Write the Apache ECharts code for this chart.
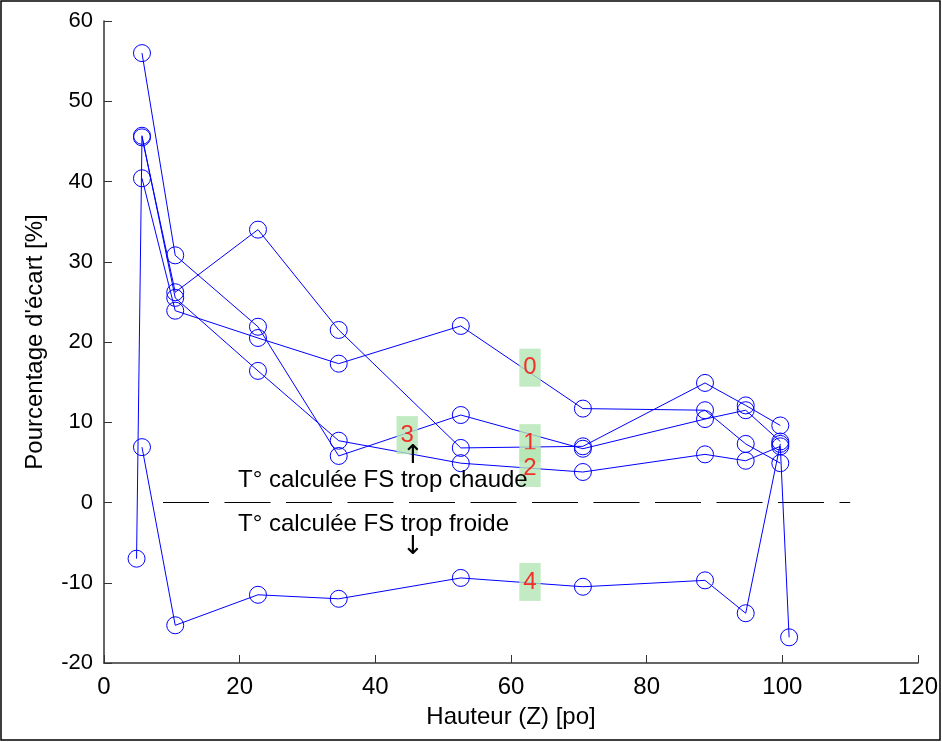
<!DOCTYPE html>
<html>
<head>
<meta charset="utf-8">
<script src="https://cdn.jsdelivr.net/npm/echarts@6/dist/echarts.min.js"></script>
<style>html,body{margin:0;padding:0;background:#fff;}#c{width:942px;height:742px;}</style>
</head>
<body>
<div id="c"></div>
<script>
// ---- data ----
var heights = [5.6, 10.5, 22.7, 34.6, 52.6, 70.6, 88.6, 94.6, 99.7];
var s0 = [40.4, 23.9, 20.5, 17.3, 22.0, 11.7, 11.5, 7.3, 4.9];
var s1 = [45.5, 26.2, 34.0, 21.5, 6.8, 7.0, 14.9, 12.1, 9.6];
var s2x = [4.8, 5.6, 10.5, 22.7, 34.6, 52.6, 70.6, 88.6, 94.6, 99.7, 101.0];
var s2 = [-7.0, 45.7, 25.5, 16.4, 7.7, 4.9, 3.8, 6.0, 5.2, 7.0, -16.8];
var s3 = [56.0, 30.8, 21.9, 5.8, 10.9, 6.7, 10.4, 11.5, 7.6];
var s4 = [6.9, -15.3, -11.5, -12.0, -9.4, -10.5, -9.7, -13.8, 7.3];

var curveLabels = ['0', '1', '2', '3', '4'];
var curveLabelX = [62.8, 62.8, 62.8, 44.7, 62.8];
var curveLabelY = [16.8, 7.4, 4.3, 8.4, -9.9];

var zeroLineX = [8.7, 110];
var zeroLineY = [0, 0];

var noteTexts = ['T° calculée FS trop chaude', 'T° calculée FS trop froide'];
var noteX = [19.75, 19.75];
var noteY = [2.8, -2.7];
var arrowTexts = ['↑', '↓'];
var arrowX = [45.55, 45.55];
var arrowY = [5.8, -5.6];

var xTicks = [0, 20, 40, 60, 80, 100, 120];
var yTicks = [-20, -10, 0, 10, 20, 30, 40, 50, 60];

function zip(xs, ys) { return xs.map(function (x, i) { return [x, ys[i]]; }); }

var FONT = '"Liberation Sans", Arial, sans-serif';
var BLUE = '#0000ff';

function curve(name, xs, ys) {
  return {
    name: name, type: 'line', data: zip(xs, ys),
    symbol: 'circle', symbolSize: 17,
    itemStyle: { color: 'rgba(0,0,0,0)', borderColor: BLUE, borderWidth: 1, opacity: 1 },
    lineStyle: { color: BLUE, width: 1 },
    showSymbol: true, z: 3, silent: true
  };
}

var series = [
  {
    type: 'line', data: zip(zeroLineX, zeroLineY), symbol: 'none', silent: true,
    lineStyle: { color: '#000', width: 1, type: [46, 15.5] }, z: 2
  },
  curve('0', heights, s0),
  curve('1', heights, s1),
  curve('2', s2x, s2),
  curve('3', heights, s3),
  curve('4', heights, s4),
  {
    type: 'scatter', symbolSize: 0, silent: true, z: 10,
    data: curveLabels.map(function (t, i) { return { value: [curveLabelX[i], curveLabelY[i]], name: t }; }),
    label: {
      show: true, position: 'inside', formatter: function (p) { return p.name; },
      color: '#ff0000', fontFamily: FONT, fontSize: 24, lineHeight: 24,
      backgroundColor: '#b4e6b4', padding: [7, 4, 7, 4]
    }
  }
];

var chart = echarts.init(document.getElementById('c'), null, { renderer: 'canvas' });
chart.setOption({
  animation: false,
  backgroundColor: '#ffffff',
  grid: { left: 104, top: 21, width: 814, height: 642, containLabel: false },
  xAxis: {
    type: 'value', min: 0, max: 120, interval: 20,
    name: 'Hauteur (Z) [po]', nameLocation: 'middle', nameGap: 42,
    nameTextStyle: { color: '#000', fontFamily: FONT, fontSize: 24 },
    axisLine: { show: true, onZero: false, lineStyle: { color: '#333', width: 1.5 } },
    axisTick: { show: true, inside: true, length: 8, lineStyle: { color: '#333', width: 1 } },
    axisLabel: { color: '#000', fontFamily: FONT, fontSize: 24, margin: 12,
      formatter: function (v) { return xTicks.indexOf(v) >= 0 ? String(v) : ''; } },
    splitLine: { show: false }
  },
  yAxis: {
    type: 'value', min: -20, max: 60, interval: 10,
    name: "Pourcentage d'écart [%]", nameLocation: 'middle', nameGap: 57, nameRotate: 90,
    nameTextStyle: { color: '#000', fontFamily: FONT, fontSize: 24 },
    axisLine: { show: true, onZero: false, lineStyle: { color: '#333', width: 1.5 } },
    axisTick: { show: true, inside: true, length: 8, lineStyle: { color: '#333', width: 1 } },
    axisLabel: { color: '#000', fontFamily: FONT, fontSize: 22, margin: 11,
      formatter: function (v) { return yTicks.indexOf(v) >= 0 ? String(v) : ''; } },
    splitLine: { show: false }
  },
  series: series
});

// annotations placed through the chart's own coordinate conversion
var graphics = [{
  type: 'rect', shape: { x: 1, y: 1, width: 939, height: 739 },
  style: { fill: 'none', stroke: '#000', lineWidth: 1.5 }, silent: true, z: 100
}];
noteTexts.forEach(function (t, i) {
  var p = chart.convertToPixel({ gridIndex: 0 }, [noteX[i], noteY[i]]);
  graphics.push({ type: 'text', x: p[0], y: p[1], z: 50, silent: true,
    style: { text: t, fill: '#000', font: '24px "Liberation Sans", Arial, sans-serif',
      textAlign: 'left', textVerticalAlign: 'middle' } });
});
arrowTexts.forEach(function (t, i) {
  var p = chart.convertToPixel({ gridIndex: 0 }, [arrowX[i], arrowY[i]]);
  graphics.push({ type: 'text', x: p[0], y: p[1], z: 50, silent: true,
    style: { text: t, fill: '#000', font: '26px "DejaVu Sans", sans-serif',
      textAlign: 'center', textVerticalAlign: 'middle' } });
});
chart.setOption({ graphic: graphics });
</script>
</body>
</html>
